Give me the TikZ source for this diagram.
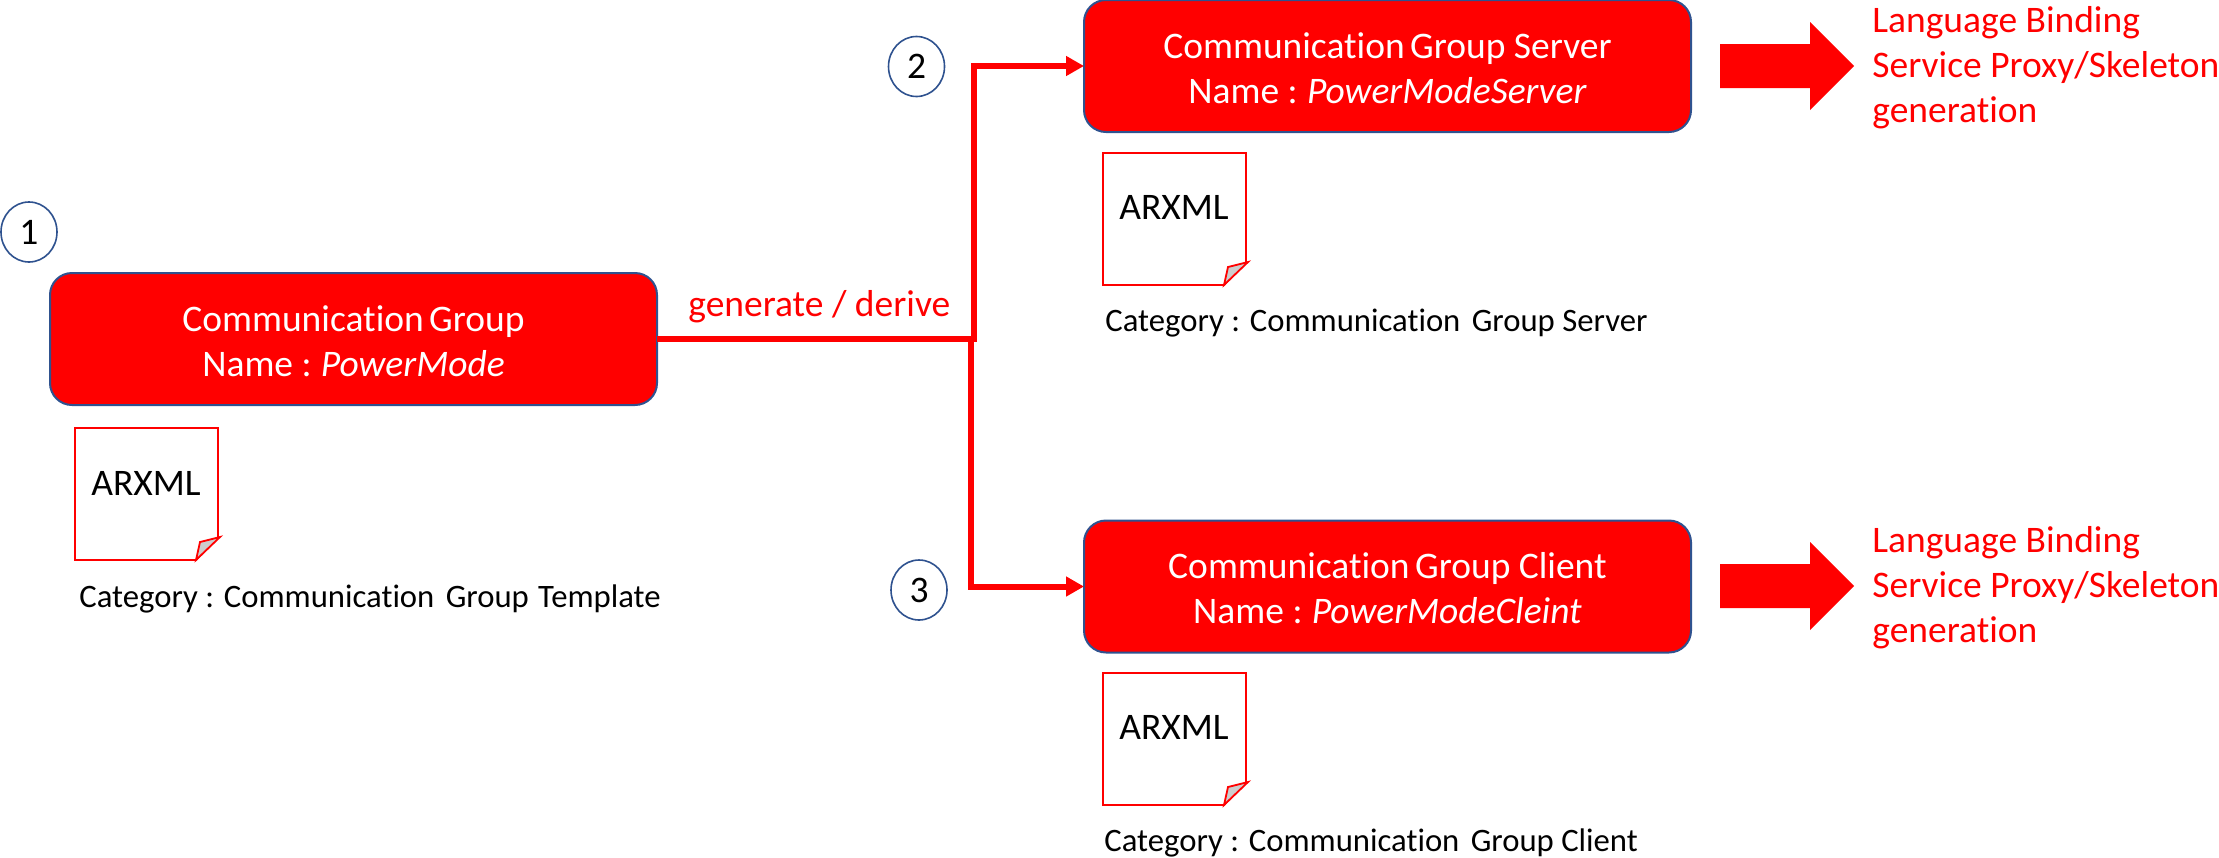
\documentclass[tikz,border=0pt]{standalone}
\usepackage{fontspec}
\setmainfont[Ligatures={NoCommon}]{Carlito}
\usetikzlibrary{arrows.meta,shapes.geometric}
\definecolor{officered}{RGB}{255,0,0}
\definecolor{officeblue}{RGB}{47,82,143}
\definecolor{foldgrey}{RGB}{205,205,205}
\newcommand{\mainsz}{\fontsize{18.75}{22.5}\selectfont}
\newcommand{\catsz}{\fontsize{16.35}{20}\selectfont}
\newcommand{\lineup}{\rule{0pt}{15pt}}
\newcommand{\docpage}[2]{%
  \begin{scope}[shift={(#1,#2)}]
    \draw[docline,fill=white] (0,0) -- (143,0) -- (143,109) -- (121,132) -- (0,132) -- cycle;
    \draw[docline,fill=foldgrey] (121,132) -- (125,114) -- (145,109) -- cycle;
  \end{scope}}
\newcommand{\bigarrow}[1]{%
  \fill[officered] (1720,#1-22) -- (1810,#1-22) -- (1810,#1-44) -- (1854,#1) -- (1810,#1+44) -- (1810,#1+22) -- (1720,#1+22) -- cycle;}
\tikzset{
  x=0.5pt,y=-0.5pt,
  groupbox/.style={draw=officeblue,line width=1pt,fill=officered,rounded corners=11pt,
    minimum width=303.5pt,minimum height=66pt,inner sep=0pt,outer sep=0pt,text=white,
    align=center,font=\mainsz},
  stepmark/.style={draw=officeblue,line width=0.8pt,fill=white,ellipse,minimum width=28pt,minimum height=30pt,
    inner sep=0pt,outer sep=0pt,font=\mainsz},
  docline/.style={draw=officered,line width=0.9pt,line join=miter},
  doctext/.style={inner sep=0pt,font=\mainsz,anchor=base},
  cattext/.style={inner sep=0pt,font=\catsz,anchor=base west},
  langtext/.style={inner sep=0pt,font=\mainsz,text=officered,align=left,anchor=west},
  link/.style={draw=officered,line width=3pt},
  linkarrow/.style={link,-{Triangle[length=9pt,width=9.5pt]}},
}
\begin{document}
\begin{tikzpicture}
\useasboundingbox (0,0) rectangle (2219,857);
\node[groupbox] (g1) at (353.5,339) {\lineup Communication\hspace{-1.5pt} Group\\Name :\hspace{-1pt} \textit{PowerMode}};
\node[groupbox] (g2) at (1387.5,66) {\lineup Communication\hspace{-1.5pt} Group Server\\Name :\hspace{-1pt} \textit{PowerModeServer}};
\node[groupbox] (g3) at (1387.5,586.5) {\lineup Communication\hspace{-1.5pt} Group Client\\Name :\hspace{-1pt} \textit{PowerModeCleint}};
\node[stepmark] (c1) at (29,232) {1};
\node[stepmark] (c2) at (916.5,66.5) {2};
\node[stepmark] (c3) at (919,590) {3};
\docpage{75}{428}
\docpage{1103}{153}
\docpage{1103}{673}
\node[doctext] (a1) at (146,495) {ARXML};
\node[doctext] (a2) at (1174,219.5) {ARXML};
\node[doctext] (a3) at (1174,739) {ARXML};
\node[cattext] (t1) at (79,607) {Category : Communication\hspace{2pt} Group\hspace{1pt} Template};
\node[cattext] (t2) at (1105,331) {Category : Communication\hspace{2pt} Group Server};
\node[cattext] (t3) at (1104,851) {Category : Communication\hspace{2pt} Group Client};
\coordinate (j1) at (974,339);
\coordinate (j2) at (971,339);
\draw[link] (g1.east) -- (j1);
\draw[linkarrow] (j1) ++(0,2.5) |- (g2.west);
\draw[linkarrow] (j2) |- (g3.west);
\node[inner sep=0pt,font=\mainsz,text=officered,anchor=base west] (gd) at (688,316.5) {generate / derive};
\bigarrow{66}
\bigarrow{586}
\node[langtext] (l1) at (1872,68) {Language Binding\\Service Proxy/Skeleton\\generation};
\node[langtext] (l2) at (1872,588) {Language Binding\\Service Proxy/Skeleton\\generation};
\end{tikzpicture}
\end{document}
